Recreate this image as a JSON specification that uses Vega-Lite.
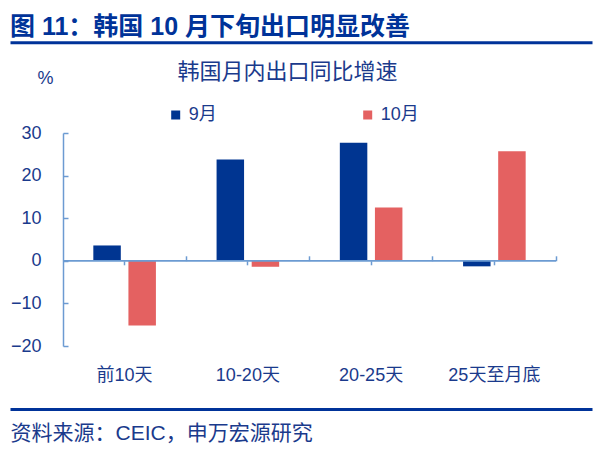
{
  "$schema": "https://vega.github.io/schema/vega-lite/v6.json",
  "description": "韩国月内出口同比增速",
  "width": 582,
  "height": 213,
  "autosize": {"type": "none"},
  "padding": {"left": 10, "top": 133, "right": 11, "bottom": 110},
  "background": "white",
  "config": {
    "view": {"stroke": null},
    "font": "Liberation Sans, Noto Sans CJK SC",
    "axis": {"grid": false}
  },
  "title": {
    "text": "图 11：韩国 10 月下旬出口明显改善",
    "anchor": "start",
    "frame": "group",
    "fontSize": 25,
    "fontWeight": "bold",
    "color": "#003399",
    "offset": 2
  },
  "data": {
    "values": [
      {"period": "前10天", "month": "9月", "value": 3.6},
      {"period": "前10天", "month": "10月", "value": -15.2},
      {"period": "10-20天", "month": "9月", "value": 23.8},
      {"period": "10-20天", "month": "10月", "value": -1.4},
      {"period": "20-25天", "month": "9月", "value": 27.7},
      {"period": "20-25天", "month": "10月", "value": 12.5},
      {"period": "25天至月底", "month": "9月", "value": -1.3},
      {"period": "25天至月底", "month": "10月", "value": 25.7}
    ]
  },
  "resolve": {"axis": {"x": "independent", "y": "independent"}},
  "layer": [
    {
      "mark": {"type": "bar"},
      "encoding": {
        "x": {
          "field": "period", "type": "nominal",
          "scale": {"domain": ["前10天", "10-20天", "20-25天", "25天至月底"], "paddingInner": 0, "paddingOuter": 0.361, "align": 0.5955},
          "axis": {"orient": "bottom", "title": null, "domain": false, "ticks": false, "labelPadding": 20, "labelFontSize": 18, "labelColor": "#1A3A8C", "labelAngle": 0}
        },
        "xOffset": {
          "field": "month", "type": "nominal",
          "scale": {"domain": ["9月", "10月"], "paddingInner": 0.217, "paddingOuter": 0.864}
        },
        "y": {
          "field": "value", "type": "quantitative",
          "scale": {"domain": [-20, 30], "nice": false, "zero": false},
          "axis": {
            "orient": "left", "offset": -53, "values": [-20, -10, 0, 10, 20, 30],
            "domainColor": "#6C9BD2", "domainWidth": 1.5,
            "tickColor": "#6C9BD2", "tickSize": -5, "tickWidth": 1.5,
            "labelPadding": 27, "labelFontSize": 18, "labelColor": "#1A3A8C",
            "title": "%", "titleAngle": 0, "titleX": -18, "titleY": -55,
            "titleAlign": "center", "titleBaseline": "middle",
            "titleFontSize": 18, "titleFontWeight": "normal", "titleColor": "#1A3A8C"
          }
        },
        "color": {
          "field": "month", "type": "nominal",
          "scale": {"domain": ["9月", "10月"], "range": ["#003591", "#E46161"]},
          "legend": {
            "orient": "none", "legendX": 156.7, "legendY": -27, "direction": "horizontal",
            "title": null, "symbolType": "square", "symbolSize": 81, "symbolStrokeWidth": 0,
            "labelFontSize": 18, "labelColor": "#1A3A8C", "labelOffset": 4,
            "columnPadding": 141, "padding": 0
          }
        }
      }
    },
    {
      "mark": {"type": "bar", "fillOpacity": 0, "stroke": "#6C9BD2", "strokeWidth": 1.5},
      "encoding": {
        "x": {
          "field": "period", "type": "nominal",
          "axis": {
            "orient": "top", "offset": 90.7, "domainColor": "#003399", "domainWidth": 3,
            "ticks": false, "labels": false,
            "title": "韩国月内出口同比增速", "titleX": 277, "titleY": 29,
            "titleAlign": "center", "titleBaseline": "middle", "titleAngle": 0,
            "titleFontSize": 22, "titleFontWeight": "normal", "titleColor": "#1A3A8C"
          }
        },
        "y": {"datum": 0, "type": "quantitative", "axis": null},
        "y2": {"datum": 0}
      }
    },
    {
      "mark": {"type": "bar", "opacity": 0},
      "encoding": {
        "x": {
          "field": "period", "type": "nominal",
          "axis": {
            "orient": "bottom", "offset": 63, "domainColor": "#003399", "domainWidth": 3,
            "ticks": false, "labels": false,
            "title": "资料来源：CEIC，申万宏源研究", "titleX": 0, "titleY": 24,
            "titleAlign": "left", "titleBaseline": "middle",
            "titleFontSize": 21, "titleFontWeight": "normal", "titleColor": "#1A3A8C"
          }
        },
        "y": {"datum": 0, "type": "quantitative", "axis": null},
        "y2": {"datum": 0}
      }
    },
    {
      "mark": {"type": "bar", "opacity": 0},
      "encoding": {
        "x": {
          "field": "period", "type": "nominal",
          "axis": {
            "orient": "bottom", "offset": -85.2, "domain": false, "labels": false, "title": null,
            "ticks": true, "bandPosition": 1, "tickSize": -5, "tickColor": "#6C9BD2", "tickWidth": 1.5
          }
        },
        "y": {"datum": 0, "type": "quantitative", "axis": null},
        "y2": {"datum": 0}
      }
    },
    {
      "mark": {"type": "bar", "opacity": 0},
      "encoding": {
        "x": {
          "field": "period", "type": "nominal",
          "axis": {
            "orient": "bottom", "offset": -85.2, "domain": false, "labels": false, "title": null,
            "ticks": true, "bandPosition": 0.5, "tickSize": 4, "tickColor": "#6C9BD2", "tickWidth": 1.5
          }
        },
        "y": {"datum": 0, "type": "quantitative", "axis": null},
        "y2": {"datum": 0}
      }
    }
  ]
}
